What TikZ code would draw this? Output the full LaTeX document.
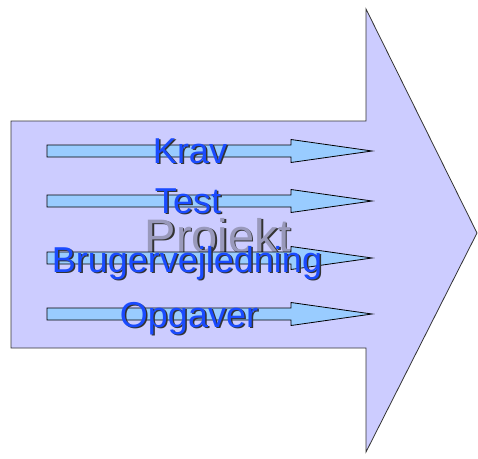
\documentclass[tikz,border=0pt]{standalone}
\usepackage{fontspec}
\setmainfont{Liberation Sans}
\definecolor{bigfill}{HTML}{CCCCFF}
\definecolor{smallfill}{HTML}{99CCFF}
\definecolor{lblblue}{HTML}{1A4BFF}
\definecolor{projgray}{HTML}{9999BB}
\definecolor{shadowc}{HTML}{333333}
\tikzset{
  bigarrow/.style={fill=bigfill, draw=black!80, line width=0.8pt, line join=miter},
  smallarrow/.style={fill=smallfill, draw=black, line width=0.8pt},
  lbl/.style={inner sep=0pt, anchor=base, text=lblblue, font=\fontsize{36}{36}\selectfont},
  lblshadow/.style={inner sep=0pt, anchor=base, text=shadowc, font=\fontsize{36}{36}\selectfont},
  proj/.style={inner sep=0pt, anchor=base, text=projgray, font=\fontsize{47}{47}\selectfont},
  projshadow/.style={inner sep=0pt, anchor=base, text=shadowc, font=\fontsize{47}{47}\selectfont}
}
\begin{document}
\begin{tikzpicture}[x=1pt,y=-1pt]
\useasboundingbox (0,0) rectangle (478,458);
% big arrow
\draw[bigarrow] (11,121) -- (366,121) -- (366,9) -- (477,233) -- (366,452) -- (366,348) -- (11,348) -- cycle;
% Projekt
\node[projshadow] (projs) at (219.5,253.5) {Projekt};
\node[proj] (proj) at (218,252) {Projekt};
% small arrows
\foreach \yc in {151,201,258,314}{
  \draw[smallarrow] (47,\yc-6) -- (291,\yc-6) -- (291,\yc-11.5) -- (372,\yc) -- (291,\yc+11.5) -- (291,\yc+6) -- (47,\yc+6) -- cycle;
}
% labels
\node[lblshadow] (kravs) at (191.5,164.5) {Krav};
\node[lbl] (krav) at (190,163) {Krav};
\node[lblshadow] (tests) at (189.5,214.5) {Test};
\node[lbl] (test) at (188,213) {Test};
\node[lblshadow] (brugs) at (188.5,273.5) {Brugervejledning};
\node[lbl] (brug) at (187,272) {Brugervejledning};
\node[lblshadow] (opgs) at (190.5,328.5) {Opgaver};
\node[lbl] (opg) at (189,327) {Opgaver};
\end{tikzpicture}
\end{document}
